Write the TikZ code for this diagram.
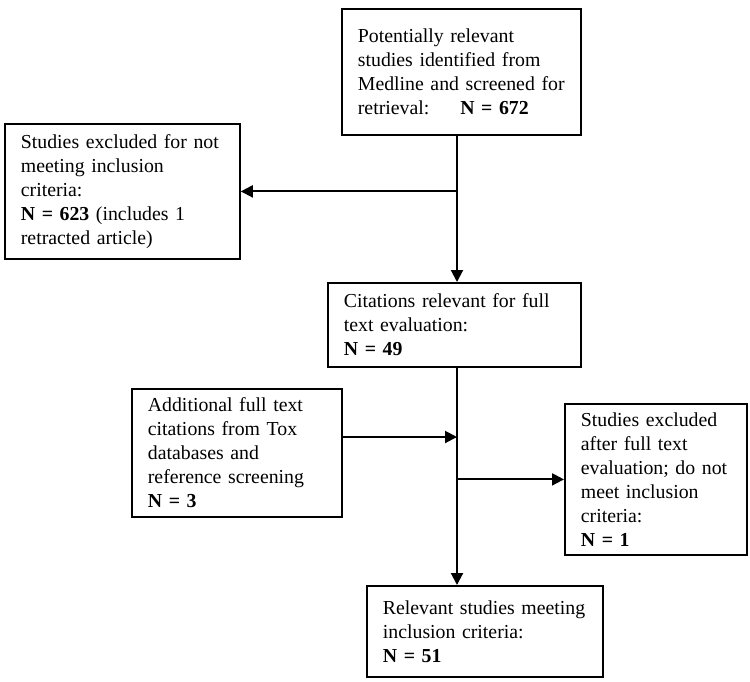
\documentclass[tikz,border=0pt]{standalone}
\usepackage{fontspec}
\setmainfont{Liberation Serif}
\usetikzlibrary{arrows.meta}
\begin{document}
\begin{tikzpicture}[x=0.5pt,y=-0.5pt]
\tikzstyle{box}=[draw, line width=0.9pt, inner xsep=8pt, inner ysep=0pt, align=left, anchor=north west, font=\fontsize{9.9}{12}\selectfont]
\tikzstyle{link}=[line width=1pt, -{Triangle[length=6pt,width=6pt]}]
\useasboundingbox (0,0) rectangle (750,681);
\node [box, text width=103.5pt, minimum height=63pt] (start) at (341,8) {Potentially relevant\\studies identified from\\Medline and screened for\\retrieval: \hspace{10.5pt}\textbf{N = 672}};
\node [box, text width=101.5pt, minimum height=67.5pt] (excl1) at (4,123) {Studies excluded for not\\meeting inclusion\\criteria:\\\textbf{N = 623} (includes 1\\retracted article)};
\node [box, text width=110.5pt, minimum height=42pt] (cites) at (327,282) {Citations relevant for full\\text evaluation:\\\textbf{N = 49}};
\node [box, text width=89pt, minimum height=64pt] (extra) at (131,388) {Additional full text\\citations from Tox\\databases and\\reference screening\\\textbf{N = 3}};
\node [box, text width=75pt, minimum height=75.5pt] (excl2) at (564,403) {Studies excluded\\after full text\\evaluation; do not\\meet inclusion\\criteria:\\\textbf{N = 1}};
\node [box, text width=102pt, minimum height=45.5pt] (final) at (366,585) {Relevant studies meeting\\inclusion criteria:\\\textbf{N = 51}};
\coordinate (trunk) at (457,0);
\coordinate (join) at (457,437);
\draw [link] (start.south -| trunk) -- (cites.north -| trunk);
\draw [link] (excl1.east -| trunk) -- (excl1.east);
\draw [link] (cites.south -| trunk) -- (final.north -| trunk);
\draw [link] (extra.east |- join) -- (join);
\draw [link] (excl2.west -| trunk) -- (excl2.west);
\end{tikzpicture}
\end{document}
